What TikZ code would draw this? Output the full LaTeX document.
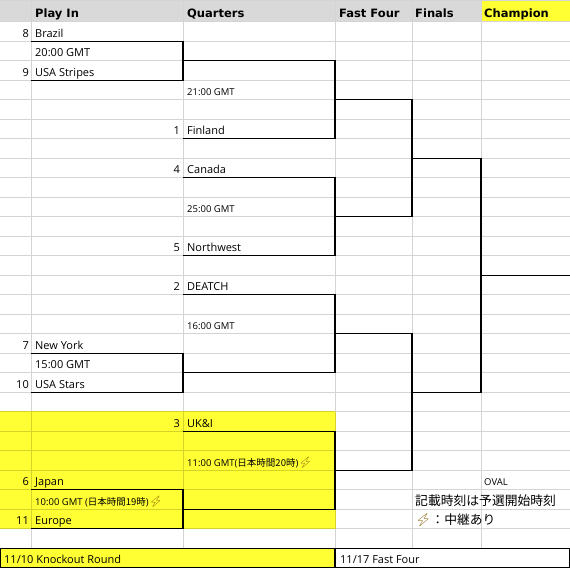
\documentclass[tikz,border=0pt]{standalone}
\usepackage{fontspec}
\setmainfont{Open Sans}
\newfontfamily\headfont{DejaVu Sans}
\newfontfamily\jpfont{Noto Sans CJK JP}
\newfontfamily\emojifont{Noto Emoji}
\definecolor{headgray}{RGB}{217,217,217}
\definecolor{gridgray}{RGB}{212,212,212}
\definecolor{yel}{RGB}{255,255,51}
\definecolor{ygrid}{RGB}{212,212,40}
\definecolor{bolt}{RGB}{140,100,10}
\newcommand{\bolt}{{\emojifont\textcolor{bolt}{⚡}}}

\begin{document}
\begin{tikzpicture}[x=1pt, y=-19.5pt, shift={(0pt,-21.7pt)},
    grid/.style={draw=gridgray, line width=0.8pt},
    ygridline/.style={draw=ygrid, line width=0.8pt},
    bracket/.style={draw=black, line width=1.2pt},
    head/.style={anchor=base west, inner sep=0pt, font=\headfont\bfseries\fontsize{11.5}{13}\selectfont},
    team/.style={anchor=base west, inner sep=0pt, font=\fontsize{11}{13}\selectfont},
    seed/.style={anchor=base east, inner sep=0pt, font=\fontsize{11}{13}\selectfont},
    small/.style={anchor=base west, inner sep=0pt, font=\fontsize{9.5}{11}\selectfont},
    note/.style={anchor=base west, inner sep=0pt, font=\jpfont\fontsize{12.8}{14}\selectfont}]
        \useasboundingbox (0,-1.113) rectangle (570,28.015);

        % 背景
        \fill[headgray] (0,-1.2) rectangle (481,0);
        \fill[yel] (481,-1.2) rectangle (570,0);
        \fill[yel] (0,20) rectangle (335,26);
        \fill[yel] (0,27) rectangle (335,28.1);

        % 罫線
        \draw[grid] (0,-1.07) -- (570,-1.07);
        \foreach \k in {0,...,27}
            \draw[grid] (0,\k) -- (570,\k);
        \foreach \x in {31,183,335,412,481}
            \draw[grid] (\x,-1.2) -- (\x,27);
        \foreach \k in {20,...,26}
            \draw[ygridline] (0,\k) -- (335,\k);
        \foreach \x in {31,183,335}
            \draw[ygridline] (\x,20) -- (\x,26);

        % 見出し
        \node[head] (hplay) at (35,-0.22) {Play In};
        \node[head] (hquar) at (187,-0.22) {Quarters};
        \node[head] (hfast) at (339,-0.22) {Fast Four};
        \node[head] (hfin) at (415,-0.22) {Finals};
        \node[head] (hchamp) at (484,-0.22) {Champion};

        % トーナメント線の点
        \coordinate (p1a) at (31,1);
        \coordinate (p1b) at (31,3);
        \coordinate (p1w) at (183,2);
        \coordinate (q1t) at (335,2);
        \coordinate (q1b) at (183,6);
        \coordinate (q1w) at (335,4);
        \coordinate (q2t) at (183,8);
        \coordinate (q2b) at (183,12);
        \coordinate (q2w) at (335,10);
        \coordinate (f1w) at (412,7);
        \coordinate (q3t) at (183,14);
        \coordinate (p2a) at (31,17);
        \coordinate (p2b) at (31,19);
        \coordinate (p2w) at (183,18);
        \coordinate (q3w) at (335,16);
        \coordinate (q4t) at (183,21);
        \coordinate (p3a) at (31,24);
        \coordinate (p3b) at (31,26);
        \coordinate (p3w) at (183,25);
        \coordinate (q4w) at (335,23);
        \coordinate (f2w) at (412,19);
        \coordinate (fw) at (481,13);
        \coordinate (champ) at (570,13);

        % トーナメント線
        \draw[bracket] (p1a) -| (p1w |- p1b) -- (p1b);
        \draw[bracket] (p1w) -- (q1t) |- (q1b);
        \draw[bracket] (q2t) -| (q2w |- q2b) -- (q2b);
        \draw[bracket] (q1w) -| (f1w |- q2w) -- (q2w);
        \draw[bracket] (p2a) -| (p2w |- p2b) -- (p2b);
        \draw[bracket] (q3t) -| (q3w |- p2w) -- (p2w);
        \draw[bracket] (p3a) -| (p3w |- p3b) -- (p3b);
        \draw[bracket] (q4t) -| (q4w |- p3w) -- (p3w);
        \draw[bracket] (q3w) -| (f2w |- q4w) -- (q4w);
        \draw[bracket] (f1w) -| (fw |- f2w) -- (f2w);
        \draw[bracket] (fw) -- (champ);
        \draw[bracket] (0,27) rectangle (570,28);
        \draw[bracket] (335,27) -- (335,28);

        % チーム
        \node[seed] (s8) at (29,0.8) {8};
        \node[team] (brazil) at (35,0.8) {Brazil};
        \node[team] (t1) at (35,1.8) {20:00 GMT};
        \node[seed] (s9) at (29,2.8) {9};
        \node[team] (stripes) at (35,2.8) {USA Stripes};
        \node[small] (t2) at (187,3.8) {21:00 GMT};
        \node[seed] (s1) at (180,5.8) {1};
        \node[team] (finland) at (187,5.8) {Finland};
        \node[seed] (s4) at (180,7.8) {4};
        \node[team] (canada) at (187,7.8) {Canada};
        \node[small] (t3) at (187,9.8) {25:00 GMT};
        \node[seed] (s5) at (180,11.8) {5};
        \node[team] (northwest) at (187,11.8) {Northwest};
        \node[seed] (s2) at (180,13.8) {2};
        \node[team] (deatch) at (187,13.8) {DEATCH};
        \node[small] (t4) at (187,15.8) {16:00 GMT};
        \node[seed] (s7) at (29,16.8) {7};
        \node[team] (newyork) at (35,16.8) {New York};
        \node[team] (t5) at (35,17.8) {15:00 GMT};
        \node[seed] (s10) at (29,18.8) {10};
        \node[team] (stars) at (35,18.8) {USA Stars};
        \node[seed] (s3) at (180,20.8) {3};
        \node[team] (ukandi) at (187,20.8) {UK\&I};
        \node[small] (t6) at (187,22.8) {11:00 GMT({\jpfont 日本時間20時}){\fontsize{11}{11}\selectfont\bolt}};
        \node[seed] (s6) at (29,23.8) {6};
        \node[team] (japan) at (35,23.8) {Japan};
        \node[small] (oval) at (484,23.8) {OVAL};
        \node[small] (t7) at (35,24.8) {10:00 GMT ({\jpfont 日本時間19時}){\fontsize{11}{11}\selectfont\bolt}};
        \node[note] (note1) at (415,24.8) {記載時刻は予選開始時刻};
        \node[seed] (s11) at (29,25.8) {11};
        \node[team] (europe) at (35,25.8) {Europe};
        \node[note] (note2) at (415,25.8) {\bolt：中継あり};

        % 日付
        \node[team] (day1) at (4,27.8) {11/10 Knockout Round};
        \node[team] (day2) at (340,27.8) {11/17 Fast Four};
\end{tikzpicture}
\end{document}
